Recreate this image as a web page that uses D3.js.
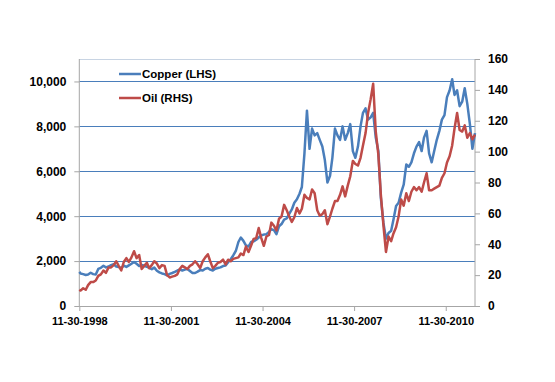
<!DOCTYPE html>
<html>
<head>
<meta charset="utf-8">
<script src="https://cdn.jsdelivr.net/npm/d3@7"></script>
<style>
  html, body { margin: 0; padding: 0; background: #ffffff; }
  svg { display: block; }
  text { font-family: "Liberation Sans", Arial, sans-serif; font-weight: bold; fill: #000; }
</style>
</head>
<body>
<svg id="chart" width="555" height="382"></svg>
<script>
// ---------- data ----------
const startDate = "1998-11-30";
const firstMonth = "1998-12";   // monthly points from here on (mid-month)
const lastMonth = "2011-11";

// Copper, LME $/t (left axis)
const copper = [
  1520,
  1450,
  1420, 1380, 1400, 1480, 1420, 1400, 1650, 1700, 1790, 1720, 1760, 1820,
  1860, 1760, 1740, 1690, 1800, 1740, 1810, 1880, 1960, 1880, 1780, 1830,
  1790, 1750, 1700, 1640, 1710, 1570, 1500, 1450, 1420, 1360, 1430, 1470,
  1520, 1580, 1620, 1580, 1620, 1650, 1560, 1470, 1470, 1530, 1600, 1580,
  1660, 1690, 1620, 1580, 1660, 1690, 1720, 1780, 1800, 1950, 2080, 2250,
  2450, 2850, 3050, 2900, 2700, 2650, 2850, 2880, 2950, 3050, 3150, 3180,
  3200, 3300, 3420, 3380, 3200, 3550, 3650, 3850, 3900, 4100, 4300, 4600,
  4750, 5000, 5300, 6800, 8700, 7000, 7900, 7600, 7700, 7400, 7100, 6500,
  5500, 5800, 6600, 7900, 7600, 7400, 8000, 7400, 7700, 8100, 6900, 6600,
  7100, 8000, 8600, 8800, 8300, 8400, 8600, 7500, 6900, 4800, 3700, 3000,
  3250, 3350, 3850, 4450, 4600, 5050, 5400, 6300, 6200, 6400, 6800, 7100,
  7300, 6900, 7500, 7800, 6800, 6400, 6900, 7400, 7800, 8300, 8500, 9300,
  9600, 10100, 9400, 9600, 8900, 9100, 9700, 9000, 8100, 7000, 7700
];

// Oil, $/bbl (right axis)
const oil = [
  10.5,
  10.0,
  11.5, 10.5, 13.5, 15.5, 15.5, 16.5, 19.5, 20.5, 23.0, 21.5, 25.0, 25.0,
  26.5, 29.0, 26.0, 23.0, 28.5, 31.0, 28.5, 31.5, 35.5, 31.0, 33.0, 24.0,
  26.0, 28.0, 24.5, 26.5, 29.0, 27.5, 24.5, 26.5, 26.0, 20.0, 18.5, 19.0,
  19.5, 20.5, 24.0, 26.0, 25.0, 24.0, 26.0, 27.0, 29.0, 27.0, 24.5, 29.0,
  31.5, 33.5, 29.0, 24.5, 26.0, 28.0, 28.5, 30.0, 27.0, 30.0, 29.0, 30.5,
  31.0, 31.5, 34.0, 33.0, 38.5, 35.0, 39.0, 43.5, 44.0, 50.5, 44.0, 39.0,
  45.0, 46.0, 54.0, 52.0, 49.0, 56.5, 58.0, 65.5, 62.0, 58.0, 54.5, 57.5,
  63.5, 60.0, 63.0, 72.0, 70.0, 69.0, 75.5, 73.0, 62.0, 58.5, 59.5, 62.0,
  53.0, 58.0, 63.0, 68.0, 68.0, 72.0, 77.5, 71.0, 78.0, 84.0, 94.0, 92.0,
  91.0, 96.0, 104.0, 112.0, 125.0, 134.0, 144.0, 113.0, 98.0, 72.0, 52.0, 35.0,
  45.0, 42.0, 47.0, 51.0, 58.0, 69.0, 65.0, 73.0, 68.0, 74.0, 77.0, 75.0,
  77.0, 74.0, 80.0, 86.0, 75.0, 75.0, 76.0, 77.0, 78.0, 83.0, 86.0, 93.0,
  97.0, 104.0, 115.0, 125.0, 114.0, 113.0, 117.0, 109.0, 112.0, 108.0, 111.0
];

const leftTicks = [0, 2000, 4000, 6000, 8000, 10000];
const rightTicks = [0, 20, 40, 60, 80, 100, 120, 140, 160];
const xTickLabels = ["11-30-1998", "11-30-2001", "11-30-2004", "11-30-2007", "11-30-2010"];
const seriesNames = ["Copper (LHS)", "Oil (RHS)"];

// ---------- build dates ----------
const parseDay = d3.timeParse("%Y-%m-%d");
const parseMonth = d3.timeParse("%Y-%m");
const parseTick = d3.timeParse("%m-%d-%Y");
const monthStarts = d3.timeMonth.range(parseMonth(firstMonth), d3.timeMonth.offset(parseMonth(lastMonth), 1));
const dates = [parseDay(startDate)].concat(monthStarts.map(m => d3.timeDay.offset(m, 14)));

const copperData = dates.map((d, i) => ({ date: d, v: copper[i] }));
const oilData = dates.map((d, i) => ({ date: d, v: oil[i] }));

// ---------- layout ----------
const plotL = 79.3, plotR = 475, plotT = 59, plotB = 306;
const svg = d3.select("#chart");
svg.append("rect").attr("width", 555).attr("height", 382).attr("fill", "#fff");

const x = d3.scaleTime()
  .domain([parseDay(startDate), dates[dates.length - 1]])
  .range([plotL, plotR]);
const yL = d3.scaleLinear().domain([0, 11000]).range([plotB, plotT]);
const yR = d3.scaleLinear().domain([0, 160]).range([plotB, plotT]);

const axisGrey = "#a6a6a6";
const gridBlue = "#4a7ebb";

// top border of plot area
svg.append("line")
  .attr("x1", plotL).attr("x2", plotR).attr("y1", plotT + 0.5).attr("y2", plotT + 0.5)
  .attr("stroke", "#c8d4e3").attr("stroke-width", 1);

// gridlines from left ticks
svg.append("g").selectAll("line")
  .data(leftTicks.filter(t => t > 0))
  .join("line")
  .attr("x1", plotL).attr("x2", plotR)
  .attr("y1", d => Math.round(yL(d)) + 0.5).attr("y2", d => Math.round(yL(d)) + 0.5)
  .attr("stroke", gridBlue).attr("stroke-width", 1);

// left axis
const gL = svg.append("g").attr("transform", `translate(${plotL},0)`)
  .call(d3.axisLeft(yL).tickValues(leftTicks).tickFormat(d3.format(",")).tickSizeOuter(0).tickSize(5).tickPadding(8));
gL.select(".domain").remove();
gL.append("line").attr("x1", 0).attr("x2", 0).attr("y1", plotT).attr("y2", plotB).attr("stroke", axisGrey);
gL.selectAll(".tick line").attr("stroke", axisGrey);
gL.selectAll(".tick text").attr("font-size", 12).attr("font-family", "Liberation Sans, Arial, sans-serif").attr("font-weight", "bold").attr("fill", "#000");

// right axis
const gR = svg.append("g").attr("transform", `translate(${plotR},0)`)
  .call(d3.axisRight(yR).tickValues(rightTicks).tickSizeOuter(0).tickSize(5).tickPadding(8));
gR.select(".domain").remove();
gR.append("line").attr("x1", 0).attr("x2", 0).attr("y1", plotT).attr("y2", plotB).attr("stroke", axisGrey);
gR.selectAll(".tick line").attr("stroke", axisGrey);
gR.selectAll(".tick text").attr("font-size", 12).attr("font-family", "Liberation Sans, Arial, sans-serif").attr("font-weight", "bold").attr("fill", "#000");

// bottom axis
const gX = svg.append("g").attr("transform", `translate(0,${plotB})`)
  .call(d3.axisBottom(x).tickValues(xTickLabels.map(parseTick)).tickFormat(d3.timeFormat("%m-%d-%Y")).tickSizeOuter(0).tickSize(5).tickPadding(6));
gX.select(".domain").remove();
gX.append("line").attr("x1", plotL).attr("x2", plotR).attr("y1", 0.5).attr("y2", 0.5).attr("stroke", axisGrey);
gX.selectAll(".tick line").attr("stroke", axisGrey);
gX.selectAll(".tick text").attr("font-size", 11).attr("font-family", "Liberation Sans, Arial, sans-serif").attr("font-weight", "bold").attr("fill", "#000");

// lines
const copperColor = "#4a7ebb";
const oilColor = "#be4b48";
const lineL = d3.line().x(d => x(d.date)).y(d => yL(d.v));
const lineR = d3.line().x(d => x(d.date)).y(d => yR(d.v));
svg.append("path").datum(copperData).attr("d", lineL)
  .attr("fill", "none").attr("stroke", copperColor).attr("stroke-width", 2.5).attr("stroke-linejoin", "round");
svg.append("path").datum(oilData).attr("d", lineR)
  .attr("fill", "none").attr("stroke", oilColor).attr("stroke-width", 2.5).attr("stroke-linejoin", "round");

// legend
const legend = svg.append("g");
const legendItems = [
  { name: seriesNames[0], color: copperColor, y: 74 },
  { name: seriesNames[1], color: oilColor, y: 98 }
];
legendItems.forEach(it => {
  legend.append("line").attr("x1", 119).attr("x2", 141).attr("y1", it.y).attr("y2", it.y)
    .attr("stroke", it.color).attr("stroke-width", 2.5);
  legend.append("text").attr("x", 142).attr("y", it.y).attr("dy", "0.35em")
    .attr("font-size", 11.5).text(it.name);
});
</script>
</body>
</html>
